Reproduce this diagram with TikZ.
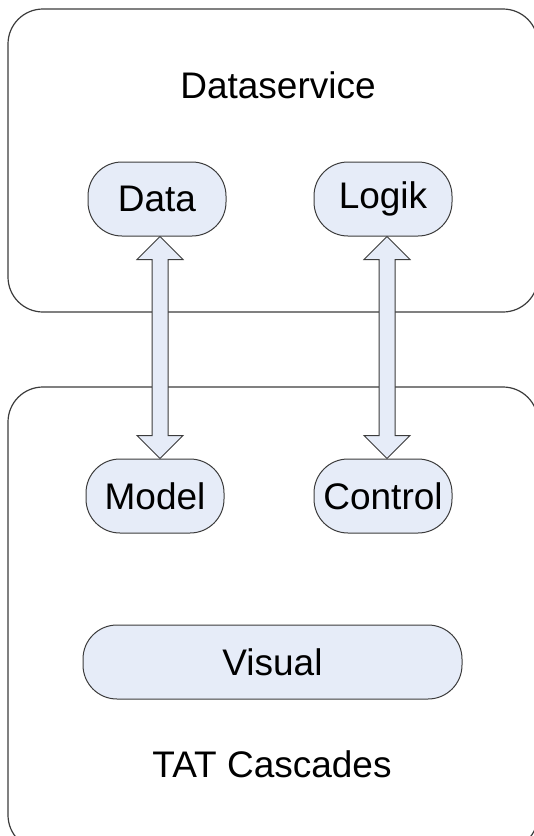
\documentclass[tikz,border=0pt]{standalone}
\usepackage{fontspec}
\setmainfont{Liberation Sans}
\usetikzlibrary{calc}
\definecolor{nodefill}{RGB}{230,236,248}
\definecolor{edge}{RGB}{60,60,60}
\tikzset{
  panel/.style={draw=edge, line width=1.2pt, rounded corners=35pt, fill=white},
  part/.style={draw=edge, line width=1pt, fill=nodefill, rounded corners=34pt,
    minimum height=74pt, inner sep=0pt, font=\fontsize{37}{40}\selectfont},
  title/.style={font=\fontsize{37}{40}\selectfont, inner sep=0pt},
  blockarrow/.style={draw=edge, line width=1pt, fill=nodefill, line join=miter}
}
\begin{document}
\begin{tikzpicture}[x=1pt,y=-1pt]
  \useasboundingbox (0,0) rectangle (534,836);
  \clip (0,0) rectangle (534,836);

  % the two service layers
  \draw[panel] (8,9) rectangle (538,312);
  \draw[panel] (8,387) rectangle (538,850);

  \node[title] (ds) at (278,85) {Dataservice};
  \node[title] (tat) at (272,764) {TAT Cascades};

  % components
  \node[part, minimum width=138pt] (data)    at (157,199) {Data};
  \node[part, minimum width=138pt] (logik)   at (383,199) {Logik};
  \node[part, minimum width=138pt] (model)   at (155,496) {Model};
  \node[part, minimum width=138pt] (control) at (383,496) {Control};
  \node[part, minimum width=379pt] (visual)  at (272.5,662) {Visual};

  % two-headed block arrows between the layers
  \coordinate (a1) at ([xshift=3pt]data.south);
  \coordinate (b1) at ([xshift=5pt]model.north);
  \coordinate (a2) at ([xshift=4pt]logik.south);
  \coordinate (b2) at ([xshift=4pt]control.north);
  \foreach \a/\b in {a1/b1, a2/b2}{
    \draw[blockarrow] (\a) -- ([shift={(23,23)}]\a) -- ([shift={(8,23)}]\a)
      -- ([shift={(8,-23)}]\b) -- ([shift={(23,-23)}]\b) -- (\b)
      -- ([shift={(-23,-23)}]\b) -- ([shift={(-8,-23)}]\b)
      -- ([shift={(-8,23)}]\a) -- ([shift={(-23,23)}]\a) -- cycle;
  }
\end{tikzpicture}
\end{document}
